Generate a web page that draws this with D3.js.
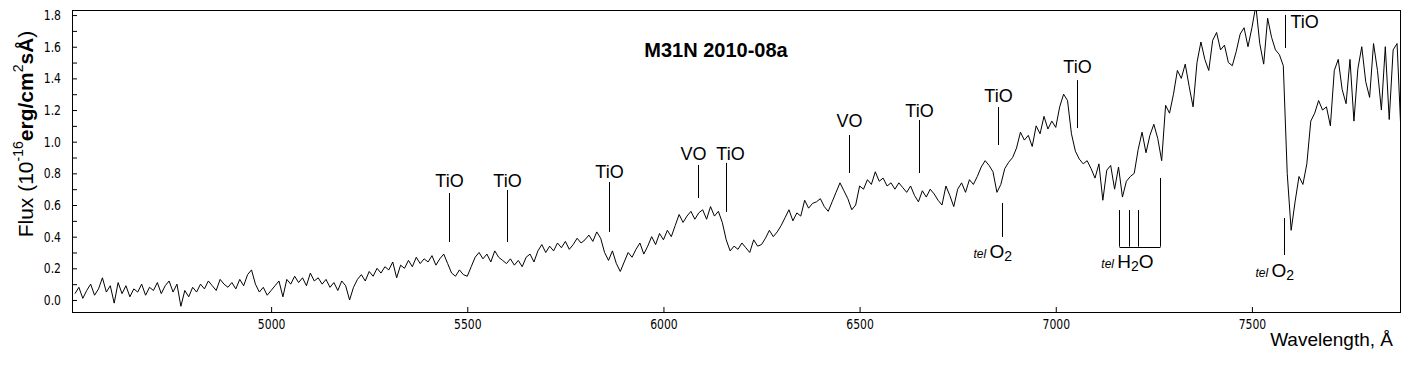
<!DOCTYPE html>
<html lang="en">
<head>
<meta charset="UTF-8">
<title>M31N 2010-08a</title>
<style>
  body { margin: 0; background: #fff; }
  svg { display: block; font-family: "Liberation Sans", Arial, sans-serif; }
  .tick text { font-family: "Liberation Sans Narrow", "Arial Narrow", "DejaVu Sans Condensed", sans-serif; font-size: 14px; fill: #000; }
  .tick line { stroke: #000; }
  .band { font-size: 18px; }
</style>
</head>
<body>
<svg id="chart" width="1410" height="365"></svg>
<script src="https://d3js.org/d3.v7.min.js"></script>
<script>
// spectrum: flux (1e-16 erg/cm2/s/A) sampled every 10 A from 4500 A
const lambdaStart = 4500, lambdaStep = 10;
const flux = [
  0.04, 0.08, 0.01, 0.06, 0.10, 0.03, 0.07, 0.14, 0.05, 0.09,   // 4500
  -0.02, 0.11, 0.04, 0.09, 0.02, 0.07, 0.05, 0.10, 0.03, 0.08,  // 4600
  0.06, 0.11, 0.04, 0.09, 0.12, 0.05, 0.10, -0.04, 0.06, 0.02,  // 4700
  0.08, 0.05, 0.10, 0.07, 0.12, 0.09, 0.06, 0.13, 0.10, 0.08,   // 4800
  0.11, 0.07, 0.13, 0.09, 0.16, 0.19, 0.10, 0.05, 0.08, 0.03,   // 4900
  0.06, 0.09, 0.12, 0.02, 0.13, 0.10, 0.15, 0.11, 0.14, 0.09,   // 5000
  0.17, 0.12, 0.14, 0.10, 0.13, 0.08, 0.11, 0.06, 0.12, 0.09,   // 5100
  0.00, 0.08, 0.13, 0.16, 0.12, 0.18, 0.15, 0.20, 0.17, 0.21,   // 5200
  0.19, 0.24, 0.14, 0.22, 0.20, 0.25, 0.21, 0.27, 0.23, 0.26,   // 5300
  0.24, 0.28, 0.22, 0.26, 0.29, 0.23, 0.17, 0.15, 0.19, 0.16,   // 5400
  0.15, 0.21, 0.27, 0.30, 0.26, 0.29, 0.24, 0.31, 0.27, 0.25,   // 5500
  0.23, 0.26, 0.22, 0.25, 0.21, 0.27, 0.29, 0.24, 0.31, 0.35,   // 5600
  0.30, 0.34, 0.31, 0.36, 0.33, 0.37, 0.32, 0.35, 0.39, 0.36,   // 5700
  0.38, 0.41, 0.37, 0.43, 0.39, 0.30, 0.25, 0.31, 0.23, 0.18,   // 5800
  0.24, 0.30, 0.27, 0.32, 0.36, 0.29, 0.34, 0.40, 0.35, 0.42,   // 5900
  0.38, 0.44, 0.40, 0.47, 0.54, 0.49, 0.53, 0.56, 0.51, 0.55,   // 6000
  0.57, 0.51, 0.59, 0.53, 0.56, 0.49, 0.38, 0.31, 0.34, 0.32,   // 6100
  0.36, 0.33, 0.30, 0.38, 0.34, 0.35, 0.39, 0.44, 0.40, 0.43,   // 6200
  0.47, 0.52, 0.57, 0.50, 0.55, 0.53, 0.63, 0.58, 0.61, 0.62,   // 6300
  0.64, 0.59, 0.56, 0.62, 0.68, 0.74, 0.69, 0.64, 0.57, 0.60,   // 6400
  0.72, 0.70, 0.76, 0.73, 0.81, 0.75, 0.77, 0.72, 0.74, 0.70,   // 6500
  0.74, 0.71, 0.68, 0.72, 0.66, 0.62, 0.69, 0.65, 0.70, 0.67,   // 6600
  0.63, 0.60, 0.72, 0.66, 0.59, 0.70, 0.74, 0.68, 0.76, 0.73,   // 6700
  0.78, 0.84, 0.88, 0.85, 0.81, 0.68, 0.73, 0.83, 0.87, 0.90,   // 6800
  0.96, 1.06, 1.01, 1.04, 0.97, 1.10, 1.05, 1.16, 1.08, 1.13,   // 6900
  1.09, 1.22, 1.30, 1.26, 1.05, 0.94, 0.89, 0.86, 0.88, 0.83,   // 7000
  0.77, 0.86, 0.63, 0.82, 0.85, 0.70, 0.84, 0.65, 0.75, 0.78,   // 7100
  0.80, 0.95, 1.06, 0.93, 1.04, 1.11, 1.02, 0.88, 1.23, 1.18,   // 7200
  1.30, 1.45, 1.40, 1.49, 1.35, 1.22, 1.50, 1.63, 1.52, 1.45,   // 7300
  1.64, 1.69, 1.58, 1.61, 1.50, 1.48, 1.57, 1.68, 1.72, 1.60,   // 7400
  1.72, 1.86, 1.62, 1.49, 1.78, 1.66, 1.58, 1.55, 1.48, 0.80,   // 7500
  0.44, 0.62, 0.78, 0.73, 0.86, 1.13, 1.18, 1.26, 1.20, 1.22,   // 7600
  1.10, 1.45, 1.52, 1.33, 1.24, 1.52, 1.13, 1.46, 1.60, 1.38,   // 7700
  1.28, 1.62, 1.45, 1.20, 1.60, 1.14, 1.58, 1.62, 1.05          // 7800
];
const wavelengths = flux.map((d, i) => lambdaStart + i * lambdaStep);

// molecular band marks: wavelength, flux of label baseline, flux of line top / bottom
const bandNames  = ["TiO", "TiO", "TiO", "VO", "TiO", "VO", "TiO", "TiO", "TiO", "TiO"];
const bandLambda = [5453, 5602, 5862, 6087, 6159, 6474, 6651, 6852, 7053, 7584];
const bandLabelF = [0.714, 0.714, 0.77, 0.884, 0.884, 1.093, 1.156, 1.251, 1.434, 1.718];
const bandTopF   = [0.676, 0.695, 0.745, 0.853, 0.866, 1.042, 1.137, 1.219, 1.389, 1.801];
const bandBotF   = [0.366, 0.366, 0.43, 0.644, 0.556, 0.802, 0.802, 0.979, 1.086, 1.592];

// telluric O2 marks
const o2Lambda = [6862, 7582];
const o2TopF   = [0.613, 0.518];
const o2BotF   = [0.398, 0.284];
const o2LabelF = [0.265, 0.145];

// telluric H2O bracket
const h2oLambda = [7162, 7187, 7209, 7266];
const h2oTopF   = [0.568, 0.568, 0.568, 0.771];
const h2oBotF   = 0.337;
const h2oLabelF = 0.202;

const yTicks = d3.range(0, 19).map(i => i / 10);
const xTicks = [5000, 5500, 6000, 6500, 7000, 7500];

const svg = d3.select('#chart');
const margin = {left: 73, top: 10, right: 9, bottom: 53};
const W = 1410 - margin.left - margin.right;
const H = 365 - margin.top - margin.bottom;

const x = d3.scaleLinear().domain([4495, 7880]).range([0, W]);
const y = d3.scaleLinear().domain([-0.076, 1.832]).range([H, 0]);

const g = svg.append('g').attr('transform', `translate(${margin.left},${margin.top})`);

g.append('clipPath').attr('id', 'clip')
  .append('rect').attr('width', W).attr('height', H);

// spectrum
const line = d3.line().x((d, i) => x(wavelengths[i])).y(d => y(d));
g.append('path')
  .datum(flux)
  .attr('clip-path', 'url(#clip)')
  .attr('fill', 'none')
  .attr('stroke', '#000')
  .attr('stroke-width', 1)
  .attr('d', line);

// axes (inward ticks)
const yAxis = d3.axisLeft(y).tickValues(yTicks).tickSize(-4).tickPadding(12)
  .tickFormat((d, i) => i % 2 === 0 ? d3.format('.1f')(d) : '');
g.append('g').call(yAxis).call(a => a.select('.domain').remove());

const xAxis = d3.axisBottom(x).tickValues(xTicks).tickSize(-5).tickPadding(7).tickFormat(d3.format('d'));
g.append('g').attr('transform', `translate(0,${H})`).call(xAxis)
  .call(a => a.select('.domain').remove());

// narrower tick digits like the original
g.selectAll('.tick text').attr('textLength', function () {
  return this.textContent ? this.getComputedTextLength() * 0.86 : null;
}).attr('lengthAdjust', 'spacingAndGlyphs');

// frame
g.append('rect')
  .attr('x', -0.5).attr('y', 0.5).attr('width', W).attr('height', H)
  .attr('fill', 'none').attr('stroke', '#000').attr('stroke-width', 1);

// band marks; a couple of labels sit a little off their line
const labelShift = {3: -5, 4: 4};
bandNames.forEach((name, i) => {
  const px = Math.round(x(bandLambda[i])) + 0.5;
  g.append('line')
    .attr('x1', px).attr('x2', px)
    .attr('y1', y(bandTopF[i])).attr('y2', y(bandBotF[i]))
    .attr('stroke', '#000');
  const last = i === bandNames.length - 1;
  g.append('text').attr('class', 'band')
    .attr('x', last ? px + 5 : px + (labelShift[i] || 0))
    .attr('y', y(bandLabelF[i]))
    .attr('text-anchor', last ? 'start' : 'middle')
    .text(name);
});

function telLabel(px, py, mol) {
  const t = g.append('text').attr('x', px).attr('y', py);
  t.append('tspan').attr('font-style', 'italic').attr('font-size', 12).text('tel ');
  mol.forEach(m => {
    if (m.sub) t.append('tspan').attr('font-size', 14).attr('dy', 3).text(m.s);
    else t.append('tspan').attr('font-size', 19).attr('dy', m.back ? -3 : 0).text(m.s);
  });
}

// telluric O2
o2Lambda.forEach((l, i) => {
  const px = Math.round(x(l)) + 0.5;
  g.append('line').attr('x1', px).attr('x2', px)
    .attr('y1', y(o2TopF[i])).attr('y2', y(o2BotF[i])).attr('stroke', '#000');
  telLabel(px - 29, y(o2LabelF[i]), [{s: 'O'}, {s: '2', sub: true}]);
});

// telluric H2O bracket
h2oLambda.forEach((l, i) => {
  const px = Math.round(x(l)) + 0.5;
  g.append('line').attr('x1', px).attr('x2', px)
    .attr('y1', y(h2oTopF[i])).attr('y2', y(h2oBotF)).attr('stroke', '#000');
});
g.append('line')
  .attr('x1', Math.round(x(h2oLambda[0])) + 0.5).attr('x2', Math.round(x(h2oLambda[3])) + 0.5)
  .attr('y1', Math.round(y(h2oBotF)) + 0.5).attr('y2', Math.round(y(h2oBotF)) + 0.5)
  .attr('stroke', '#000');
telLabel(x(h2oLambda[0]) - 18, y(h2oLabelF), [{s: 'H'}, {s: '2', sub: true}, {s: 'O', back: true}]);

// title
svg.append('text')
  .attr('x', 716).attr('y', 57)
  .attr('text-anchor', 'middle')
  .attr('font-size', 20).attr('font-weight', 'bold')
  .text('M31N 2010-08a');

// y axis title
const yt = svg.append('text')
  .attr('transform', 'translate(33,134) rotate(-90)')
  .attr('text-anchor', 'middle')
  .attr('font-size', 21);
yt.append('tspan').text('Flux (10');
yt.append('tspan').attr('font-size', 14).attr('dy', -10).text('-16');
yt.append('tspan').attr('dy', 10).attr('font-weight', 'bold').text('erg/cm');
yt.append('tspan').attr('font-size', 14).attr('dy', -10).text('2');
yt.append('tspan').attr('dy', 10).attr('font-weight', 'bold').text('sÅ');
yt.append('tspan').text(')');

// x axis title
svg.append('text')
  .attr('x', 1393).attr('y', 346)
  .attr('text-anchor', 'end')
  .attr('font-size', 19)
  .text('Wavelength, Å');
</script>
</body>
</html>
